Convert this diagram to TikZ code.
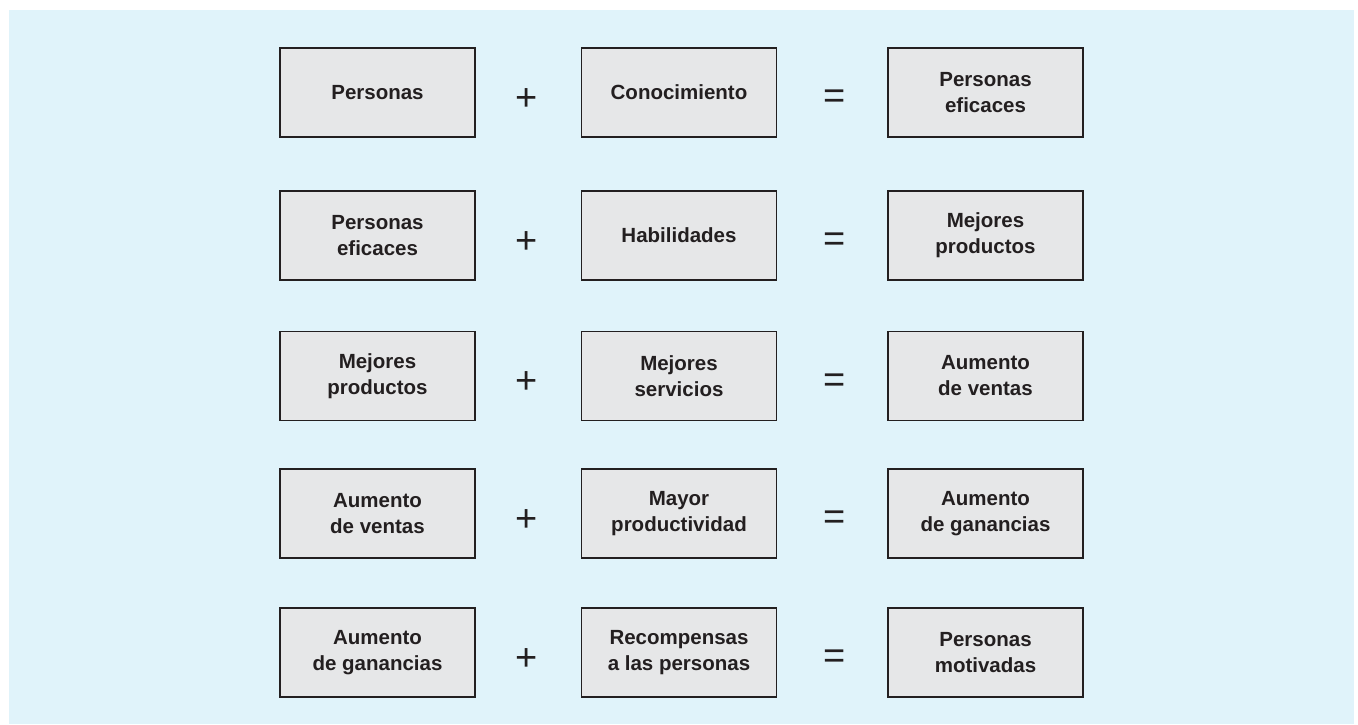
\documentclass[tikz,border=0pt]{standalone}
\usepackage{fontspec}
\setmainfont{Liberation Sans}
\definecolor{bgblue}{HTML}{E0F3FA}
\definecolor{boxfill}{HTML}{E6E7E8}
\definecolor{boxline}{HTML}{231F20}
\definecolor{ink}{HTML}{231F20}
\begin{document}
\begin{tikzpicture}[x=1pt,y=-1pt,
  box/.style={draw=boxline, fill=boxfill, line width=1.8pt,
    minimum width=195pt, minimum height=89pt, inner sep=0pt, align=center,
    font=\fontsize{20.5}{26}\selectfont\bfseries, text=ink},
  op/.style={font=\fontsize{38}{38}\selectfont, text=ink, inner sep=0pt}]
\useasboundingbox (0,0) rectangle (1358,724);
\fill[bgblue] (9,10) rectangle (1354,724);
% column centres
\def\ca{377.5}\def\cb{679}\def\cc{985.5}\def\cp{527}\def\ce{835}
% row 1
\node[box] (a1) at (\ca,92.5) {Personas};
\node[box] (b1) at (\cb,92.5) {Conocimiento};
\node[box] (c1) at (\cc,92.5) {Personas\\eficaces};
\node[op] (p1) at (\cp,99.5) {+};
\node[op] (e1) at (\ce,99.5) {=};
% row 2
\node[box] (a2) at (\ca,235.5) {Personas\\eficaces};
\node[box] (b2) at (\cb,235.5) {Habilidades};
\node[box] (c2) at (\cc,235.5) {Mejores\\productos};
\node[op] (p2) at (\cp,242.5) {+};
\node[op] (e2) at (\ce,242.5) {=};
% row 3
\node[box] (a3) at (\ca,376) {Mejores\\productos};
\node[box] (b3) at (\cb,376) {Mejores\\servicios};
\node[box] (c3) at (\cc,376) {Aumento\\de ventas};
\node[op] (p3) at (\cp,383) {+};
\node[op] (e3) at (\ce,383) {=};
% row 4
\node[box] (a4) at (\ca,513.5) {Aumento\\de ventas};
\node[box] (b4) at (\cb,513.5) {Mayor\\productividad};
\node[box] (c4) at (\cc,513.5) {Aumento\\de ganancias};
\node[op] (p4) at (\cp,520.5) {+};
\node[op] (e4) at (\ce,520.5) {=};
% row 5
\node[box] (a5) at (\ca,652.5) {Aumento\\de ganancias};
\node[box] (b5) at (\cb,652.5) {Recompensas\\a las personas};
\node[box] (c5) at (\cc,652.5) {Personas\\motivadas};
\node[op] (p5) at (\cp,659.5) {+};
\node[op] (e5) at (\ce,659.5) {=};
\end{tikzpicture}
\end{document}
